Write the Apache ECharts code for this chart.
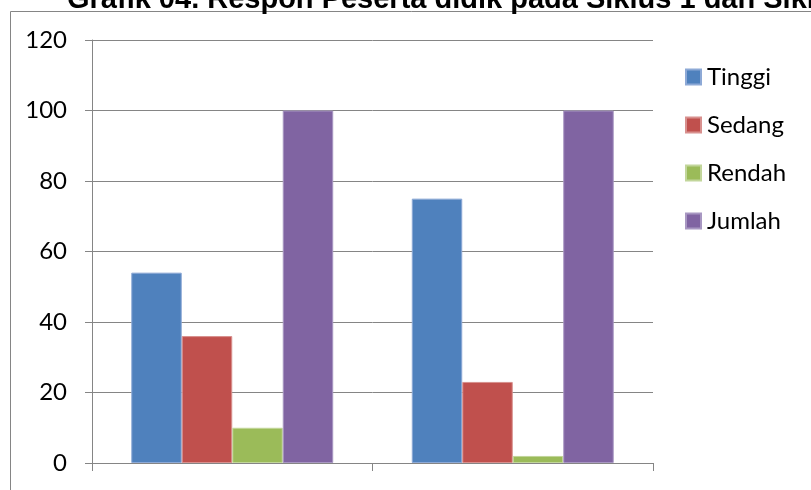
<!DOCTYPE html>
<html>
<head>
<meta charset="utf-8">
<script src="https://cdn.jsdelivr.net/npm/echarts@6/dist/echarts.min.js"></script>
<style>
  html, body { margin: 0; padding: 0; background: #fff; }
  #chart { width: 811px; height: 490px; }
</style>
</head>
<body>
<div id="chart"></div>
<script>
const title = 'Grafik 04. Respon Peserta didik pada Siklus 1 dan Siklus 2'
const categories = ['Siklus 1', 'Siklus 2']
const seriesNames = ['Tinggi', 'Sedang', 'Rendah', 'Jumlah']
const tinggi = [54, 75]
const sedang = [36, 23]
const rendah = [10, 2]
const jumlah = [100, 100]
const colors = ['#4F81BD', '#C0504D', '#9BBB59', '#8064A2']
const borders = ['#8DA9D6', '#D8908E', '#C2D69B', '#A897C2']

const gray = '#858585'
const font = 'Lato'

const chart = echarts.init(document.getElementById('chart'))

const values = [tinggi, sedang, rendah, jumlah]

const option = {
  animation: false,
  graphic: [
    {
      type: 'rect',
      shape: { x: 10.5, y: 11.5, width: 1200, height: 1000 },
      style: { fill: 'none', stroke: gray, lineWidth: 1 },
      silent: true,
    },
    {
      type: 'text',
      left: 67,
      top: -15,
      style: {
        text: title,
        font: 'bold 29px "Liberation Sans", Arial, sans-serif',
        fill: '#000',
      },
      silent: true,
    },
  ],
  grid: {
    left: 92,
    right: 158,
    top: 40,
    bottom: 27,
  },
  legend: {
    orient: 'vertical',
    left: 680,
    top: 60,
    itemWidth: 15,
    itemHeight: 15,
    itemGap: 24,
    icon: 'rect',
    data: seriesNames,
    textStyle: {
      fontFamily: font,
      fontSize: 24,
      color: '#000',
      padding: [0, 0, 0, 1],
    },
  },
  xAxis: {
    type: 'category',
    data: categories,
    axisLine: { lineStyle: { color: gray, width: 1 } },
    axisTick: { show: true, length: 8, lineStyle: { color: gray } },
    axisLabel: { show: false },
  },
  yAxis: {
    type: 'value',
    min: 0,
    max: 120,
    interval: 20,
    axisLine: { show: true, lineStyle: { color: gray, width: 1 } },
    axisTick: { show: true, length: 7, lineStyle: { color: gray } },
    splitLine: { lineStyle: { color: gray, width: 1 } },
    axisLabel: {
      margin: 25,
      fontFamily: font,
      fontSize: 24,
      color: '#000',
    },
  },
  series: seriesNames.map((name, i) => ({
    name,
    type: 'bar',
    data: values[i],
    barGap: 0,
    barCategoryGap: '28%',
    itemStyle: {
      color: colors[i],
      borderColor: borders[i],
      borderWidth: 1,
    },
  })),
}

chart.setOption(option)
</script>
</body>
</html>
